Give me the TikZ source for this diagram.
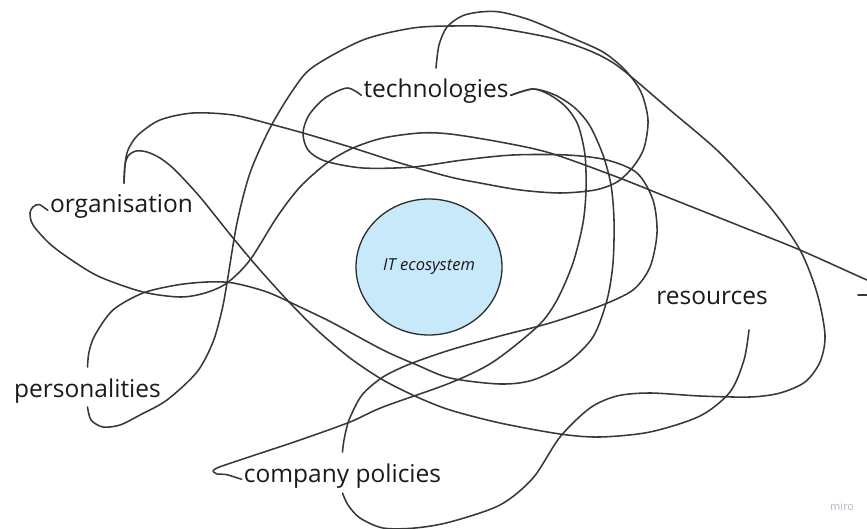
\documentclass[tikz,border=0pt]{standalone}
\usepackage{fontspec}
\setmainfont{Open Sans}
\usetikzlibrary{shapes.geometric}
\definecolor{linec}{HTML}{383838}
\definecolor{txt}{HTML}{1A1A1A}
\definecolor{ecofill}{HTML}{C7E9FA}
\definecolor{ecoline}{HTML}{2B2B2B}
\definecolor{miroc}{HTML}{B4B4C8}
\begin{document}
\begin{tikzpicture}[x=1pt,y=-1pt,
  lbl/.style={font=\fontsize{24.5}{29}\selectfont, text=txt, inner sep=2pt, anchor=base},
  wire/.style={draw=linec, line width=1.55pt, line cap=round, line join=round},
  hub/.style={shape=ellipse, draw=ecoline, fill=ecofill, line width=1.3pt, minimum width=146pt, minimum height=136pt, inner sep=0pt, font=\fontsize{16.5}{19}\selectfont\itshape, text=txt}
]
\useasboundingbox (0,0) rectangle (867,529);
\clip (0,0) rectangle (867,529);

\node[lbl] (tech) at (436,98) {technologies};
\node[lbl] (org) at (121.5,213) {organisation};
\node[lbl] (pers) at (87.5,397) {personalities};
\node[lbl] (comp) at (342.5,482) {company policies};
\node[lbl] (res) at (712,305) {resources};
\node[hub] (eco) at (429,267) {IT ecosystem};
\node[font=\fontsize{11}{13}\selectfont, text=miroc] (miro) at (842,507) {miro};

\coordinate (techT) at ([yshift=30pt]tech.base);
\coordinate (orgT) at ([xshift=2.5pt,yshift=30pt]org.base);
\coordinate (persT) at ([yshift=30pt]pers.base);
\coordinate (persB) at ([yshift=-10pt]pers.base);
\coordinate (compT) at ([yshift=30pt]comp.base);
\coordinate (compB) at ([yshift=-11pt]comp.base);
\coordinate (resB) at ([xshift=37pt,yshift=-25pt]res.base);
\coordinate (offA) at (895,291);
\coordinate (stubA) at (858,295);
\coordinate (stubB) at (875,295);

% technologies top -> organisation top
\draw[wire] plot[smooth] coordinates {(techT) (439,45) (447,27) (462,16) (480,12) (500,12) (530,20) (570,37) (603,52) (625,70) (641,92) (648,120) (644,148) (633,167) (617,182) (595,190) (560,193) (520,190) (480,183) (450,177) (400,163) (350,147) (303,133) (270,124) (233,115) (193,113) (160,120) (138,135) (128,150) (125,165) (orgT)};

% organisation top -> resources bottom
\draw[wire] plot[smooth] coordinates {(orgT) (125,165) (128,156) (136,151) (147,152) (160,158) (175,170) (200,197) (233,238) (260,270) (290,303) (317,330) (350,358) (383,380) (417,397) (450,410) (500,423) (560,434) (600,437) (650,432) (700,416) (730,392) (744,360) (resB)};

% organisation left -> off the right edge
\draw[wire] plot[smooth] coordinates {(org.mid west) (39,204.5) (33,207) (30,213) (33,225) (50,244) (73,261) (100,277) (143,292) (180,297) (205,293) (227,283) (250,260) (277,217) (300,187) (327,163) (353,148) (383,138) (420,133) (450,134) (500,142) (550,153) (617,177) (667,197) (740,226) (800,250) (867,280) (offA)};

% technologies left -> company policies top
\draw[wire] plot[smooth] coordinates {(tech.mid west) (347,88) (325,98) (309,115) (303,133) (308,150) (325,161) (363,168) (413,167) (463,160) (513,155) (567,155) (607,160) (637,173) (653,200) (657,233) (650,267) (633,290) (600,306) (550,323) (500,336) (450,350) (410,364) (383,377) (362,395) (349,420) (344,440) (compT)};

% technologies right -> company policies left
\draw[wire] plot[smooth] coordinates {(tech.mid east) (533,89) (550,95) (566,107) (578,125) (585,155) (586,190) (583,223) (573,263) (557,300) (538,326) (493,362) (450,383) (383,407) (350,422) (300,440) (255,455) (228,464) (217,468) (213,471) (217,474) (226,474.5) (comp.mid west)};

% technologies right -> personalities top
\draw[wire] plot[smooth] coordinates {(tech.mid east) (533,89) (555,95) (575,108) (590,126) (603,155) (611,185) (614,220) (613,263) (607,300) (593,337) (567,363) (533,380) (500,384) (450,378) (417,365) (383,350) (333,323) (300,307) (267,292) (233,283) (207,282) (177,285) (143,293) (113,310) (95,335) (89,352) (persT)};

% personalities bottom -> company policies bottom
\draw[wire] plot[smooth] coordinates {(persB) (91,420) (103,427) (120,425) (140,415) (167,400) (197,372) (213,342) (222,310) (227,283) (237,223) (250,173) (270,128) (293,90) (313,67) (363,40) (413,28) (453,26) (490,27) (547,37) (580,47) (603,57) (623,70) (670,110) (720,153) (770,207) (800,250) (817,293) (825,335) (820,362) (805,382) (780,393) (750,397) (700,396) (650,393) (617,396) (590,408) (560,437) (533,478) (500,505) (450,522) (415,528) (383,528) (360,518) (348,505) (compB)};

% stub at the right edge
\draw[wire] (stubA) -- (stubB);
\end{tikzpicture}
\end{document}
